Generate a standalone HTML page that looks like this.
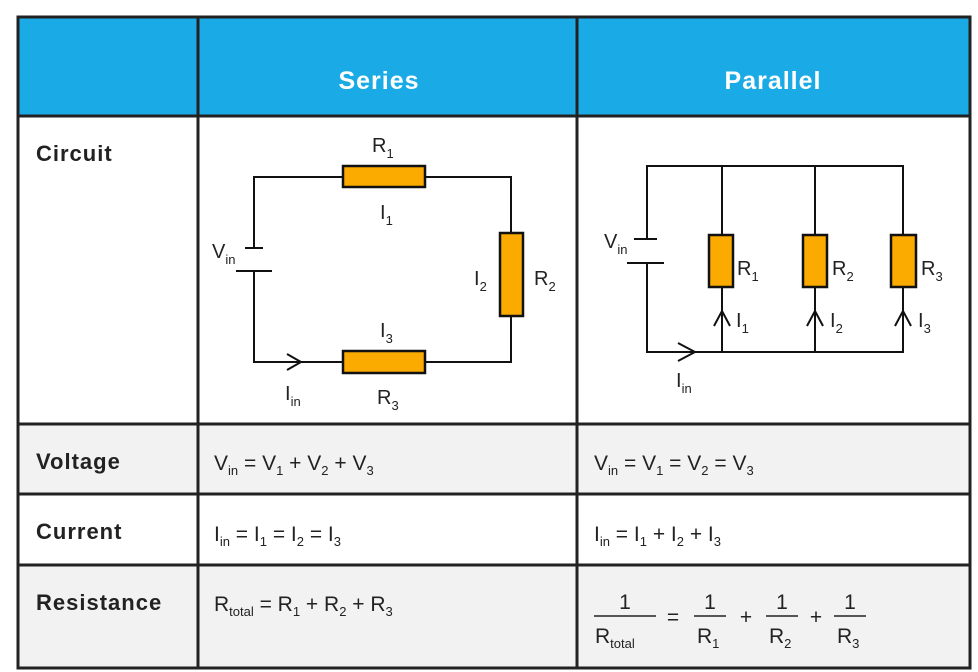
<!DOCTYPE html>
<html><head><meta charset="utf-8"><style>
html,body{margin:0;padding:0;background:#fff;}
svg{display:block;}
text{font-family:"Liberation Sans",sans-serif;fill:#222;}
.lab{font-size:22px;font-weight:bold;letter-spacing:1px;}
.h{font-size:25px;font-weight:bold;fill:#fff;letter-spacing:1px;}
.c{font-size:20px;}
.s{font-size:13px;}
.eq{font-size:21px;}
</style></head><body>
<svg width="978" height="672" viewBox="0 0 978 672" xmlns="http://www.w3.org/2000/svg">
<rect x="18" y="17" width="952" height="99" fill="#1aabe6"/>
<rect x="18" y="424" width="952" height="70" fill="#f2f2f2"/>
<rect x="18" y="565" width="952" height="103" fill="#f2f2f2"/>
<g stroke="#222" stroke-width="3" fill="none">
<rect x="18" y="17" width="952" height="651"/>
<line x1="198" y1="17" x2="198" y2="668"/>
<line x1="577" y1="17" x2="577" y2="668"/>
<line x1="18" y1="116" x2="970" y2="116"/>
<line x1="18" y1="424" x2="970" y2="424"/>
<line x1="18" y1="494" x2="970" y2="494"/>
<line x1="18" y1="565" x2="970" y2="565"/>
</g>
<text class="h" x="379" y="89" text-anchor="middle">Series</text>
<text class="h" x="773" y="89" text-anchor="middle">Parallel</text>
<text class="lab" x="36" y="161">Circuit</text>
<text class="lab" x="36" y="469">Voltage</text>
<text class="lab" x="36" y="539">Current</text>
<text class="lab" x="36" y="610">Resistance</text>

<!-- series circuit -->
<g stroke="#111" stroke-width="2" fill="none">
<polyline points="254,248 254,177 343,177"/>
<polyline points="425,177 511,177 511,233"/>
<polyline points="511,316 511,362 425,362"/>
<polyline points="343,362 254,362 254,271"/>
<line x1="245" y1="248" x2="263" y2="248"/>
<line x1="236" y1="271" x2="272" y2="271"/>
<polyline points="287,354 301,362 287,370"/>
</g>
<g fill="#fbab00" stroke="#111" stroke-width="2.5">
<rect x="343" y="166" width="82" height="21"/>
<rect x="500" y="233" width="23" height="83"/>
<rect x="343" y="351" width="82" height="22"/>
</g>
<text class="c" x="372" y="152">R<tspan class="s" dy="6">1</tspan></text>
<text class="c" x="380" y="219">I<tspan class="s" dy="6">1</tspan></text>
<text class="c" x="474" y="285">I<tspan class="s" dy="6">2</tspan></text>
<text class="c" x="534" y="285">R<tspan class="s" dy="6">2</tspan></text>
<text class="c" x="380" y="337">I<tspan class="s" dy="6">3</tspan></text>
<text class="c" x="377" y="404">R<tspan class="s" dy="6">3</tspan></text>
<text class="c" x="285" y="400">I<tspan class="s" dy="6">in</tspan></text>
<text class="c" x="212" y="258">V<tspan class="s" dy="6">in</tspan></text>

<!-- parallel circuit -->
<g stroke="#111" stroke-width="2" fill="none">
<polyline points="647,239 647,166 903,166 903,235"/>
<polyline points="647,263 647,352 903,352 903,288"/>
<line x1="722" y1="166" x2="722" y2="235"/>
<line x1="722" y1="288" x2="722" y2="352"/>
<line x1="815" y1="166" x2="815" y2="235"/>
<line x1="815" y1="288" x2="815" y2="352"/>
<line x1="634" y1="239" x2="657" y2="239"/>
<line x1="627" y1="263" x2="664" y2="263"/>
<polyline points="678,343 695,352 678,361"/>
<polyline points="714,326 722,311 730,326"/>
<polyline points="807,326 815,311 823,326"/>
<polyline points="895,326 903,311 911,326"/>
</g>
<g fill="#fbab00" stroke="#111" stroke-width="2.5">
<rect x="709" y="235" width="24" height="52"/>
<rect x="803" y="235" width="24" height="52"/>
<rect x="891" y="235" width="25" height="52"/>
</g>
<text class="c" x="737" y="275">R<tspan class="s" dy="6">1</tspan></text>
<text class="c" x="832" y="275">R<tspan class="s" dy="6">2</tspan></text>
<text class="c" x="921" y="275">R<tspan class="s" dy="6">3</tspan></text>
<text class="c" x="736" y="327">I<tspan class="s" dy="6">1</tspan></text>
<text class="c" x="830" y="327">I<tspan class="s" dy="6">2</tspan></text>
<text class="c" x="918" y="327">I<tspan class="s" dy="6">3</tspan></text>
<text class="c" x="604" y="248">V<tspan class="s" dy="6">in</tspan></text>
<text class="c" x="676" y="387">I<tspan class="s" dy="6">in</tspan></text>

<!-- equations -->
<text class="eq" x="214" y="470">V<tspan class="s" dy="5">in</tspan><tspan dy="-5"> = V</tspan><tspan class="s" dy="5">1</tspan><tspan dy="-5"> + V</tspan><tspan class="s" dy="5">2</tspan><tspan dy="-5"> + V</tspan><tspan class="s" dy="5">3</tspan></text>
<text class="eq" x="594" y="470">V<tspan class="s" dy="5">in</tspan><tspan dy="-5"> = V</tspan><tspan class="s" dy="5">1</tspan><tspan dy="-5"> = V</tspan><tspan class="s" dy="5">2</tspan><tspan dy="-5"> = V</tspan><tspan class="s" dy="5">3</tspan></text>
<text class="eq" x="214" y="541">I<tspan class="s" dy="5">in</tspan><tspan dy="-5"> = I</tspan><tspan class="s" dy="5">1</tspan><tspan dy="-5"> = I</tspan><tspan class="s" dy="5">2</tspan><tspan dy="-5"> = I</tspan><tspan class="s" dy="5">3</tspan></text>
<text class="eq" x="594" y="541">I<tspan class="s" dy="5">in</tspan><tspan dy="-5"> = I</tspan><tspan class="s" dy="5">1</tspan><tspan dy="-5"> + I</tspan><tspan class="s" dy="5">2</tspan><tspan dy="-5"> + I</tspan><tspan class="s" dy="5">3</tspan></text>
<text class="eq" x="214" y="611">R<tspan class="s" dy="5">total</tspan><tspan dy="-5"> = R</tspan><tspan class="s" dy="5">1</tspan><tspan dy="-5"> + R</tspan><tspan class="s" dy="5">2</tspan><tspan dy="-5"> + R</tspan><tspan class="s" dy="5">3</tspan></text>

<g stroke="#222" stroke-width="1.5">
<line x1="594" y1="616" x2="656" y2="616"/>
<line x1="694" y1="616" x2="726" y2="616"/>
<line x1="766" y1="616" x2="798" y2="616"/>
<line x1="834" y1="616" x2="866" y2="616"/>
</g>
<text class="eq" x="625" y="609" text-anchor="middle">1</text>
<text class="eq" x="710" y="609" text-anchor="middle">1</text>
<text class="eq" x="782" y="609" text-anchor="middle">1</text>
<text class="eq" x="850" y="609" text-anchor="middle">1</text>
<text class="eq" x="595" y="643">R<tspan class="s" dy="5">total</tspan></text>
<text class="eq" x="697" y="643">R<tspan class="s" dy="5">1</tspan></text>
<text class="eq" x="769" y="643">R<tspan class="s" dy="5">2</tspan></text>
<text class="eq" x="837" y="643">R<tspan class="s" dy="5">3</tspan></text>
<text class="eq" x="673" y="624" text-anchor="middle">=</text>
<text class="eq" x="746" y="624" text-anchor="middle">+</text>
<text class="eq" x="816" y="624" text-anchor="middle">+</text>
</svg>
</body></html>
